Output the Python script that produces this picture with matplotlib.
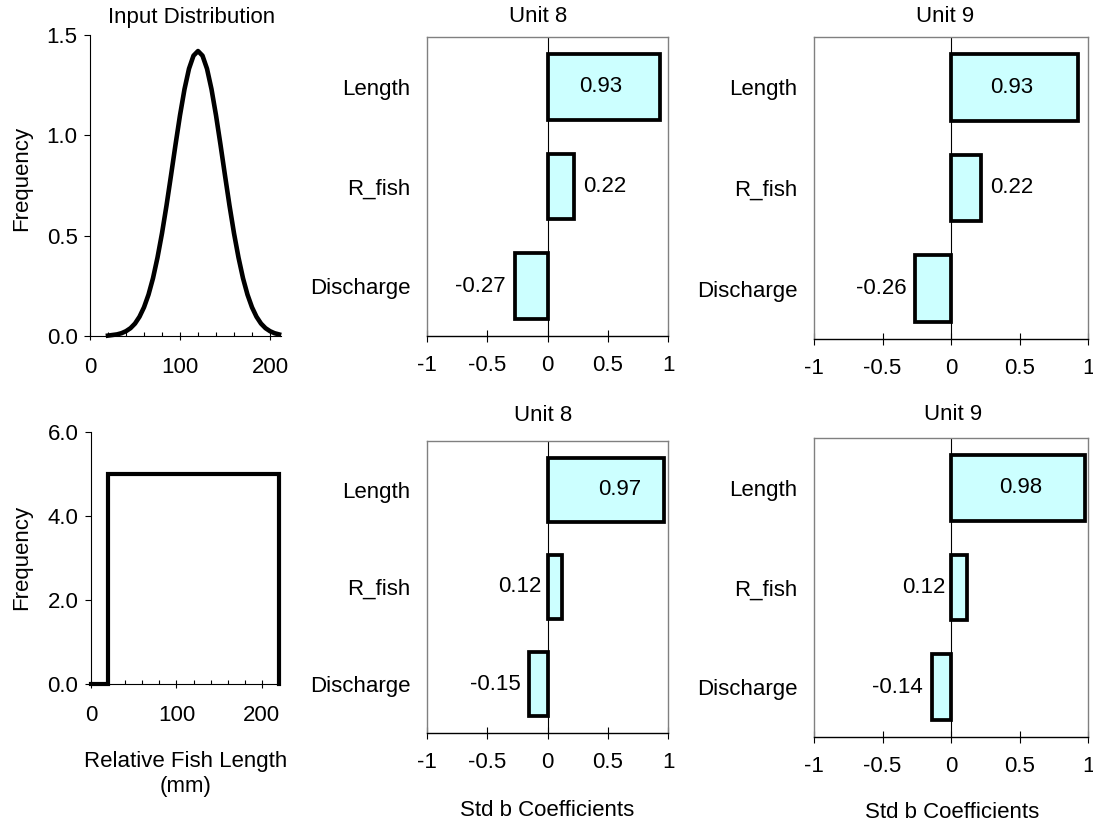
import matplotlib
matplotlib.use("Agg")
import matplotlib.pyplot as plt
from matplotlib.ticker import MultipleLocator, FormatStrFormatter, FixedLocator

plt.rcParams['font.family'] = ['Liberation Sans', 'DejaVu Sans']
plt.rcParams['font.size'] = 16

# ---- data -------------------------------------------------------------
# input distributions of relative fish length (mm)
normal_x = list(range(20, 215, 5))
normal_freq = [0.002, 0.005, 0.008, 0.014, 0.024, 0.039, 0.062, 0.096, 0.143, 0.206,
               0.288, 0.391, 0.512, 0.650, 0.800, 0.953, 1.100, 1.230, 1.332, 1.397,
               1.420,
               1.397, 1.332, 1.230, 1.100, 0.953, 0.800, 0.650, 0.512, 0.391,
               0.288, 0.206, 0.143, 0.096, 0.062, 0.039, 0.024, 0.014, 0.008]
uniform_x = [0, 20, 20, 220, 220]
uniform_freq = [0, 0, 5, 5, 0]

# standardized regression coefficients
factors = ["Discharge", "R_fish", "Length"]
unit8_normal = [-0.27, 0.22, 0.93]
unit9_normal = [-0.26, 0.22, 0.93]
unit8_uniform = [-0.15, 0.12, 0.97]
unit9_uniform = [-0.14, 0.12, 0.98]

# ---- layout helpers -----------------------------------------------------
W, H = 1093, 824
fig = plt.figure(figsize=(W / 100, H / 100), dpi=100)


def px_rect(x0, y0, x1, y1):
    return [x0 / W, 1 - y1 / H, (x1 - x0) / W, (y1 - y0) / H]


def fig_text(x, y, s, **kw):
    fig.text(x / W, 1 - y / H, s, ha='center', va='center', **kw)


def dist_axes(rect, xmax, ymax, ystep):
    ax = fig.add_axes(rect)
    ax.set_xlim(0, xmax)
    ax.set_ylim(0, ymax)
    for side in ('top', 'right'):
        ax.spines[side].set_visible(False)
    for side in ('left', 'bottom'):
        ax.spines[side].set_linewidth(0.8)
        ax.spines[side].set_color('black')
    ax.xaxis.set_major_locator(FixedLocator([0, 100, 200]))
    ax.xaxis.set_minor_locator(MultipleLocator(20))
    ax.yaxis.set_major_locator(MultipleLocator(ystep))
    ax.yaxis.set_major_formatter(FormatStrFormatter('%.1f'))
    ax.tick_params(axis='x', which='major', direction='inout', length=6, width=0.8, pad=12)
    ax.tick_params(axis='x', which='minor', direction='in', length=3, width=0.8)
    ax.tick_params(axis='y', which='major', direction='out', length=4, width=0.8, pad=5)
    return ax


def coef_axes(rect, values, label_modes):
    ax = fig.add_axes(rect)
    ypos = list(range(len(factors)))
    ax.barh(ypos, values, height=0.66, color='#CCFFFF', edgecolor='black',
            linewidth=2.7, zorder=3)
    ax.axvline(0, color='black', linewidth=0.8, zorder=2)
    ax.set_xlim(-1, 1)
    ax.set_ylim(-0.5, len(factors) - 0.5)
    ax.set_yticks(ypos)
    ax.set_yticklabels(factors)
    ax.set_xticks([-1, -0.5, 0, 0.5, 1])
    ax.set_xticklabels(['-1', '-0.5', '0', '0.5', '1'])
    ax.tick_params(axis='y', length=0, pad=12)
    ax.tick_params(axis='x', direction='inout', length=8, width=0.8, pad=10)
    for side in ('top', 'left', 'right'):
        ax.spines[side].set_color('#808080')
        ax.spines[side].set_linewidth(1.0)
    ax.spines['bottom'].set_color('black')
    ax.spines['bottom'].set_linewidth(1.0)
    for y, v, mode in zip(ypos, values, label_modes):
        txt = f"{v:.2f}"
        if mode[0] == 'at':
            ax.annotate(txt, (mode[1], y), ha='center', va='center', zorder=4)
        elif mode[0] == 'end':
            off = 6.5 if v >= 0 else -6.5
            ax.annotate(txt, (v, y), xytext=(off, 0), textcoords='offset points',
                        ha='left' if v >= 0 else 'right', va='center', zorder=4)
        else:  # label beside the base of the bar
            ax.annotate(txt, (0, y), xytext=(-4.3, 0), textcoords='offset points',
                        ha='right', va='center', zorder=4)
    return ax


# ---- input distributions ----------------------------------------------
ax1 = dist_axes(px_rect(90, 35, 280.8, 336), 212, 1.5, 0.5)
ax1.plot(normal_x, normal_freq, color='black', linewidth=3.3, solid_joinstyle='round',
         clip_on=False, zorder=3)
ax1.set_xticklabels(['0', '100', '200'])

ax4 = dist_axes(px_rect(91, 432, 279, 684), 220, 6.0, 2.0)
ax4.plot(uniform_x, uniform_freq, color='black', linewidth=3.0, solid_joinstyle='miter',
         clip_on=False, zorder=3)
ax4.set_xticklabels(['0', '100', '200'])

# ---- coefficient panels -----------------------------------------------
coef_axes(px_rect(427, 37, 668, 336), unit8_normal,
          [('end',), ('end',), ('at', 0.44)])
coef_axes(px_rect(814, 37, 1088, 339), unit9_normal,
          [('end',), ('end',), ('at', 0.44)])
coef_axes(px_rect(427, 441, 668, 733), unit8_uniform,
          [('end',), ('base',), ('at', 0.60)])
coef_axes(px_rect(814, 438, 1088, 737), unit9_uniform,
          [('end',), ('base',), ('at', 0.51)])

# ---- titles and axis captions -----------------------------------------
fig_text(192, 17, "Input Distribution")
fig_text(538, 17, "Unit 8")
fig_text(945, 17, "Unit 9")
fig_text(543, 415, "Unit 8")
fig_text(953, 414, "Unit 9")

fig_text(22, 178, "Frequency", rotation=90)
fig_text(22, 557, "Frequency", rotation=90)

fig_text(186, 774, "Relative Fish Length\n(mm)", linespacing=1.3)
fig_text(547, 810, "Std b Coefficients")
fig_text(952, 812, "Std b Coefficients")

fig.savefig("out.png", dpi=100, facecolor='white')
